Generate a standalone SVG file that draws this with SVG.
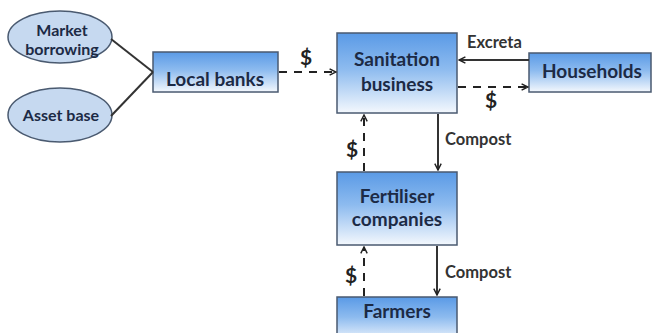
<svg xmlns="http://www.w3.org/2000/svg" width="652" height="333" viewBox="0 0 652 333">
<defs>
<linearGradient id="g" x1="0" y1="0" x2="0" y2="1">
<stop offset="0" stop-color="#5a9ae6"/>
<stop offset="0.45" stop-color="#8dbbef"/>
<stop offset="1" stop-color="#f4f8fd"/>
</linearGradient>
<marker id="ah" viewBox="0 0 10 10" refX="9" refY="5" markerWidth="8" markerHeight="8" markerUnits="userSpaceOnUse" orient="auto">
<path d="M1,1 L9,5 L1,9" fill="none" stroke="#222" stroke-width="1.8"/>
</marker>
</defs>
<style>
.box{fill:url(#g);stroke:#4a5a70;stroke-width:1.5}
.ell{fill:#c6d9f0;stroke:#4a5a70;stroke-width:1.5}
.t{font-family:Lato,"Open Sans","Liberation Sans",sans-serif;font-weight:bold;fill:#1c2a45;text-anchor:middle}
.nt{font-size:19px}
.et{font-size:16px}
.lab{font-family:Lato,"Open Sans","Liberation Sans",sans-serif;font-weight:bold;fill:#333;font-size:16.5px}
.dol{font-family:Lato,"Open Sans","Liberation Sans",sans-serif;font-weight:bold;fill:#222;font-size:21px;text-anchor:middle}
.solid{stroke:#333;stroke-width:2;fill:none}
.dash{stroke:#222;stroke-width:2;fill:none;stroke-dasharray:8,7}
</style>
<rect width="652" height="333" fill="#fff"/>
<g id="market-borrowing">
<ellipse class="ell" cx="60" cy="37" rx="52" ry="26"/>
<text class="t et" x="62" y="36">Market</text>
<text class="t et" x="62" y="55">borrowing</text>
</g>
<g id="asset-base">
<ellipse class="ell" cx="60" cy="115" rx="52" ry="27"/>
<text class="t et" x="61" y="121">Asset base</text>
</g>
<g id="local-banks">
<rect class="box" x="153" y="52" width="125" height="40"/>
<text class="t nt" x="215" y="86">Local banks</text>
</g>
<g id="sanitation-business">
<rect class="box" x="337" y="33" width="120" height="80"/>
<text class="t nt" x="397" y="66">Sanitation</text>
<text class="t nt" x="397" y="91">business</text>
</g>
<g id="households">
<rect class="box" x="529" y="53" width="122" height="39"/>
<text class="t nt" x="592" y="78">Households</text>
</g>
<g id="fertiliser-companies">
<rect class="box" x="337" y="172" width="120" height="73"/>
<text class="t nt" x="397" y="203">Fertiliser</text>
<text class="t nt" x="397" y="226">companies</text>
</g>
<g id="farmers">
<rect class="box" x="337" y="297" width="120" height="45"/>
<text class="t nt" x="397" y="318">Farmers</text>
</g>
<g id="connectors">
<line class="solid" x1="111" y1="39" x2="153" y2="72" stroke-width="1.5"/>
<line class="solid" x1="111" y1="116" x2="153" y2="72" stroke-width="1.5"/>
<line class="dash" x1="279" y1="72" x2="336" y2="72" marker-end="url(#ah)"/>
<line class="solid" x1="529" y1="60" x2="459" y2="60" marker-end="url(#ah)"/>
<line class="dash" x1="458" y1="87" x2="528" y2="87" marker-end="url(#ah)"/>
<line class="solid" x1="438" y1="114" x2="438" y2="170" marker-end="url(#ah)"/>
<line class="dash" x1="364" y1="171" x2="364" y2="115" marker-end="url(#ah)"/>
<line class="solid" x1="437" y1="246" x2="437" y2="295" marker-end="url(#ah)"/>
<line class="dash" x1="364" y1="296" x2="364" y2="247" marker-end="url(#ah)"/>
<text class="dol" x="306" y="65">$</text>
<text class="lab" x="467" y="48">Excreta</text>
<text class="dol" x="491" y="108">$</text>
<text class="lab" x="445" y="145">Compost</text>
<text class="dol" x="352" y="157">$</text>
<text class="lab" x="445" y="278">Compost</text>
<text class="dol" x="351" y="283">$</text>
</g>
</svg>
